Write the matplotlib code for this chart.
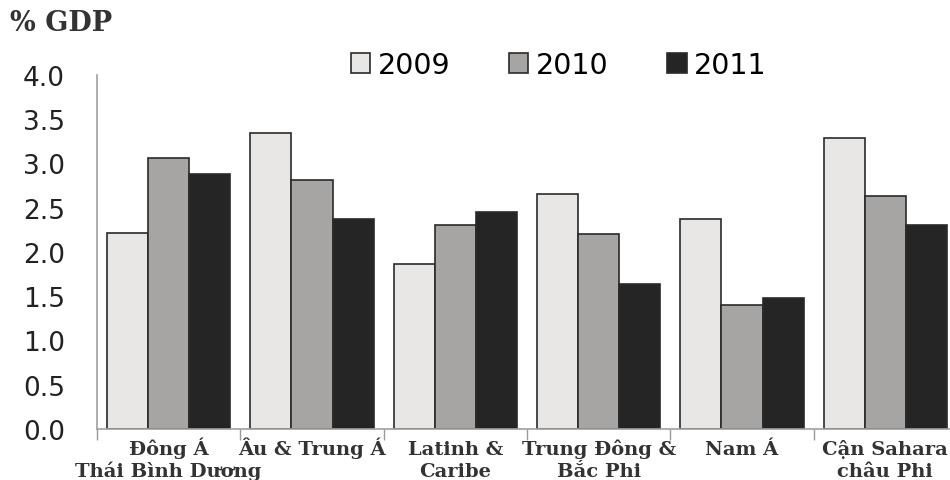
import numpy as np
import matplotlib.pyplot as plt

regions = ["Đông Á\nThái Bình Dương", "Âu & Trung Á", "Latinh &\nCaribe",
           "Trung Đông &\nBắc Phi", "Nam Á", "Cận Sahara\nchâu Phi"]
years = ["2009", "2010", "2011"]
gdp_2009 = [2.22, 3.35, 1.86, 2.66, 2.37, 3.29]
gdp_2010 = [3.06, 2.81, 2.30, 2.20, 1.40, 2.63]
gdp_2011 = [2.88, 2.37, 2.45, 1.64, 1.48, 2.30]
colors = ["#e8e7e5", "#a6a5a3", "#262526"]

fig = plt.figure(figsize=(9.5, 4.81), dpi=100)
ax = fig.add_axes([97 / 950, 51 / 481, 860 / 950, 354 / 481])

x = np.arange(len(regions))
w = 0.287
for i, (vals, c, lab) in enumerate(zip([gdp_2009, gdp_2010, gdp_2011], colors, years)):
    ax.bar(x + (i - 1) * w, vals, w, color=c, edgecolor="#2a2a2a",
           linewidth=1.2, label=lab)

ax.set_xlim(-0.5, len(regions) - 0.5)
ax.set_ylim(0, 4.0)
ax.set_yticks(np.arange(0, 4.01, 0.5))
ax.set_yticklabels([f"{v:.1f}" for v in np.arange(0, 4.01, 0.5)],
                   fontsize=19, family="DejaVu Sans", color="#222222")
ax.tick_params(axis="y", length=0, pad=23)

# category boundaries get the tick marks, names sit in between
ax.set_xticks(np.arange(-0.5, len(regions), 1.0))
ax.set_xticklabels([])
ax.tick_params(axis="x", length=8, width=1, color="#999999", direction="out")
for xi, name in zip(x, regions):
    # one text per line so the long second lines may run under neighbours
    for k, line in enumerate(name.split("\n")):
        ax.annotate(line, (xi, 0), xycoords=("data", "axes fraction"),
                    xytext=(0, -18 - 16 * k), textcoords="offset points",
                    ha="center", va="baseline", fontsize=14, fontweight="bold",
                    family="DejaVu Serif", color="#333333",
                    annotation_clip=False)

for s in ["top", "right"]:
    ax.spines[s].set_visible(False)
for s in ["left", "bottom"]:
    ax.spines[s].set_color("#a0a0a0")
    ax.spines[s].set_linewidth(1.2)

ax.legend(loc="upper left", bbox_to_anchor=(0.265, 1.14), ncol=3, frameon=False,
          prop={"family": "DejaVu Sans", "size": 20.5}, handlelength=0.7,
          handleheight=0.7, handletextpad=0.25, columnspacing=2.05)

fig.text(10 / 950, 1 - 31 / 481, "% GDP", fontsize=19.5, fontweight="bold",
         family="DejaVu Serif", color="#333333")

fig.savefig("out.png", dpi=100)
